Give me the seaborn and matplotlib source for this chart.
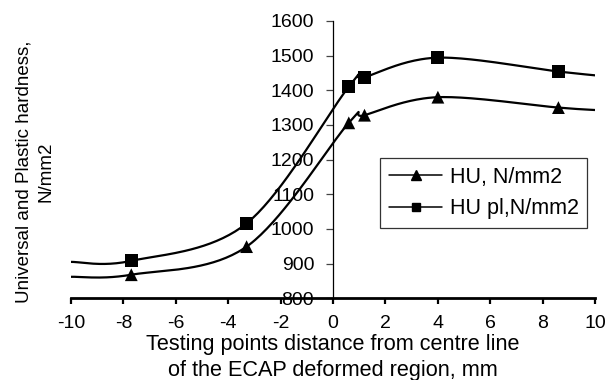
import numpy as np
import pandas as pd
import matplotlib
matplotlib.use("Agg")
import matplotlib.pyplot as plt
from matplotlib.lines import Line2D
import seaborn as sns

# Measured hardness across the ECAP deformed region
distance_mm = [-7.7, -3.3, 0.6, 1.2, 4.0, 8.6]
hu = [868, 949, 1306, 1328, 1380, 1350]          # HU, N/mm2
hu_pl = [908, 1016, 1410, 1437, 1494, 1454]      # HU pl, N/mm2

# Trend curve end values at the edges of the range
edge_mm = [-10, 10]
hu_edge = [862, 1343]
hu_pl_edge = [905, 1443]

labels = ["HU, N/mm2", "HU pl,N/mm2"]
x_ticks = list(range(-10, 11, 2))
y_ticks = list(range(800, 1601, 100))


def smooth_curve(xs, ys, sx=26.2, sy=0.3466, n=40):
    """Bezier smoothing through points (control points from neighbours)."""
    P = np.column_stack([np.asarray(xs, float) * sx, np.asarray(ys, float) * sy])
    pts = []
    for i in range(len(P) - 1):
        p0 = P[i - 1] if i > 0 else P[i]
        p1, p2 = P[i], P[i + 1]
        p3 = P[i + 2] if i + 2 < len(P) else P[i + 1]
        b1 = p1 + (p2 - p0) / 6.0
        b2 = p2 - (p3 - p1) / 6.0
        t = np.linspace(0, 1, n)[:, None]
        seg = ((1 - t) ** 3) * p1 + 3 * ((1 - t) ** 2) * t * b1 + 3 * (1 - t) * t ** 2 * b2 + t ** 3 * p2
        pts.append(seg if i == 0 else seg[1:])
    pts = np.vstack(pts)
    return pts[:, 0] / sx, pts[:, 1] / sy


sns.set_theme(style="white")
plt.rcParams["font.family"] = ["Liberation Sans", "DejaVu Sans"]

fig = plt.figure(figsize=(6.08, 3.80), dpi=100)
ax = fig.add_axes([0.1168, 0.215, 0.862, 0.730])

frames = []
for name, vals, edge in [(labels[0], hu, hu_edge), (labels[1], hu_pl, hu_pl_edge)]:
    xs = [edge_mm[0]] + distance_mm + [edge_mm[1]]
    ys = [edge[0]] + vals + [edge[1]]
    cx, cy = smooth_curve(xs, ys)
    frames.append(pd.DataFrame({"x": cx, "y": cy, "series": name}))
curves = pd.concat(frames, ignore_index=True)

points = pd.concat([
    pd.DataFrame({"x": distance_mm, "y": hu, "series": labels[0]}),
    pd.DataFrame({"x": distance_mm, "y": hu_pl, "series": labels[1]}),
], ignore_index=True)

sns.lineplot(data=curves, x="x", y="y", units="series", estimator=None, sort=False,
             color="black", linewidth=1.6, ax=ax, legend=False)
sns.scatterplot(data=points, x="x", y="y", style="series",
                markers={labels[0]: "^", labels[1]: "s"}, s=85, color="black",
                edgecolor="black", linewidth=0, ax=ax, legend=False, zorder=3)

ax.set_xlim(-10, 10)
ax.set_ylim(800, 1600)
ax.set_xticks(x_ticks)
ax.set_yticks(y_ticks)
ax.set_xticklabels([str(v) for v in x_ticks])
ax.set_yticklabels([str(v) for v in y_ticks])

ax.spines["left"].set_position(("data", 0))
ax.spines["top"].set_visible(False)
ax.spines["right"].set_visible(False)
ax.spines["left"].set_color("black")
ax.spines["left"].set_linewidth(0.9)
ax.spines["bottom"].set_color("black")
ax.spines["bottom"].set_linewidth(2.0)
ax.set_facecolor("white")
ax.grid(False)

ax.tick_params(axis="x", direction="out", length=4.3, width=1.6, color="black",
               pad=8, labelsize=14, labelcolor="black", bottom=True)
ax.tick_params(axis="y", direction="out", length=5, width=0.9, color="#444444",
               pad=8.6, labelsize=14, labelcolor="black", left=True)

ax.set_xlabel("Testing points distance from centre line\nof the ECAP deformed region, mm",
              fontsize=15.6, color="black", linespacing=1.3)
ax.set_ylabel("Universal and Plastic hardness,\nN/mm2", fontsize=13.5, color="black",
              linespacing=1.4)
ax.yaxis.set_label_coords(-0.031, 0.455)
ax.xaxis.set_label_coords(0.5, -0.13)

handles = [
    Line2D([], [], color="black", marker="^", markersize=6.5, linewidth=1.1),
    Line2D([], [], color="black", marker="s", markersize=6, linewidth=1.1),
]
leg = fig.legend(handles, labels, loc="upper left", bbox_to_anchor=(0.625, 0.584),
                 bbox_transform=fig.transFigure, fontsize=15.5, frameon=True,
                 fancybox=False, borderaxespad=0, handlelength=2.5,
                 handletextpad=0.34, labelspacing=0.5, borderpad=0.4)
leg.get_frame().set_edgecolor("black")
leg.get_frame().set_linewidth(0.9)
leg.get_frame().set_facecolor("white")
for t in leg.get_texts():
    t.set_color("black")

fig.patch.set_facecolor("white")
fig.savefig("out.png", dpi=100, facecolor="white")
